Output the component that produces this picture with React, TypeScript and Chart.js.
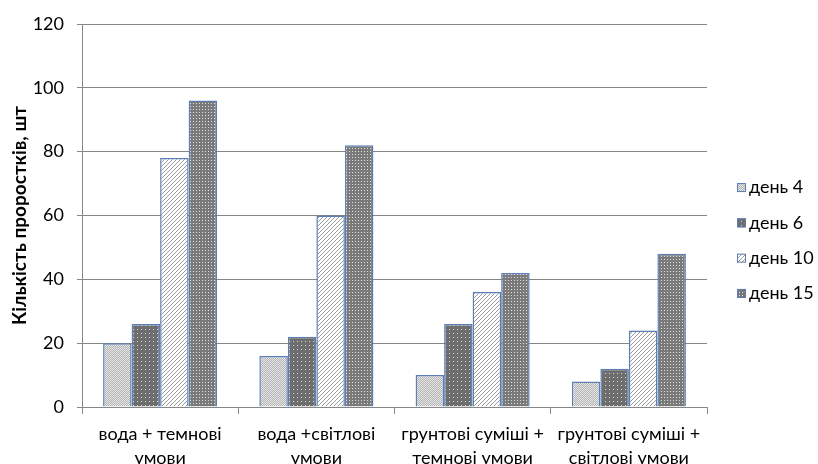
import React, { useEffect, useRef } from "react";
import { Chart, registerables } from "chart.js";

Chart.register(...registerables);

const categories: string[][] = [
  ["вода + темнові", "умови"],
  ["вода +світлові", "умови"],
  ["грунтові суміші +", "темнові умови"],
  ["грунтові суміші +", "світлові умови"],
];
const seriesNames = ["день 4", "день 6", "день 10", "день 15"];
const day4 = [20, 16, 10, 8];
const day6 = [26, 22, 26, 12];
const day10 = [78, 60, 36, 24];
const day15 = [96, 82, 42, 48];
const yTicks = [0, 20, 40, 60, 80, 100, 120];

const FONT = "Lato, 'Open Sans', sans-serif";

function makePattern(kind: number): CanvasPattern | string {
  const c = document.createElement("canvas");
  const ctx = c.getContext("2d");
  if (!ctx) return "#999";
  if (kind === 0) {
    c.width = 2; c.height = 2;
    ctx.fillStyle = "#b4b4b4"; ctx.fillRect(0, 0, 2, 2);
    ctx.fillStyle = "#e6e6e6"; ctx.fillRect(0, 0, 1, 1); ctx.fillRect(1, 1, 1, 1);
  } else if (kind === 1) {
    c.width = 4; c.height = 4;
    ctx.fillStyle = "#6e6e6e"; ctx.fillRect(0, 0, 4, 4);
    ctx.fillStyle = "#d8d8d8"; ctx.fillRect(1, 1, 1, 1);
  } else if (kind === 2) {
    c.width = 4; c.height = 4;
    ctx.fillStyle = "#ffffff"; ctx.fillRect(0, 0, 4, 4);
    ctx.fillStyle = "#9a9a9a";
    for (let i = 0; i < 4; i++) ctx.fillRect(3 - i, i, 1, 1);
  } else {
    c.width = 3; c.height = 3;
    ctx.fillStyle = "#7a7a7a"; ctx.fillRect(0, 0, 3, 3);
    ctx.fillStyle = "#e0e0e0"; ctx.fillRect(1, 1, 1, 1);
  }
  return ctx.createPattern(c, "repeat") || "#999";
}

const sideLegend = {
  id: "sideLegend",
  afterDraw(chart: any) {
    const ctx = chart.ctx as CanvasRenderingContext2D;
    const x = chart.chartArea.right + 30;
    const cy = (chart.chartArea.top + chart.chartArea.bottom) / 2;
    const step = 35.3;
    const n = chart.data.datasets.length;
    ctx.save();
    chart.data.datasets.forEach((ds: any, i: number) => {
      const y = cy + (i - (n - 1) / 2) * step + 25;
      ctx.fillStyle = ds.backgroundColor;
      ctx.fillRect(x, y - 4.5, 9, 9);
      ctx.strokeStyle = ds.borderColor;
      ctx.lineWidth = 1;
      ctx.strokeRect(x + 0.5, y - 4, 8, 8);
      ctx.fillStyle = "#000";
      ctx.font = `18px ${FONT}`;
      ctx.textBaseline = "middle";
      ctx.textAlign = "left";
      ctx.fillText(ds.label, x + 12, y);
    });
    ctx.restore();
  },
};

export default function App() {
  const ref = useRef<HTMLCanvasElement | null>(null);
  useEffect(() => {
    document.body.style.margin = "0";
    if (!ref.current) return;
    const values = [day4, day6, day10, day15];
    const chart = new Chart(ref.current, {
      type: "bar",
      data: {
        labels: categories,
        datasets: seriesNames.map((name, i) => ({
          label: name,
          data: values[i],
          backgroundColor: makePattern(i),
          borderColor: "#5b7fb5",
          borderWidth: 1.5,
          barPercentage: 1,
          categoryPercentage: 0.73,
        })),
      },
      options: {
        animation: false,
        responsive: false,
        devicePixelRatio: 1,
        layout: { padding: { top: 24, right: 111, left: 0, bottom: 0 } },
        plugins: {
          tooltip: { enabled: false },
          legend: { display: false },
        },
        scales: {
          x: {
            afterFit: (axis: any) => { axis.height = 57; },
            grid: { display: true, offset: true, drawOnChartArea: false, tickLength: 7, color: "#868686" },
            border: { color: "#868686" },
            ticks: { font: { family: FONT, size: 18, lineHeight: 1.333 }, color: "#000", maxRotation: 0, autoSkip: false, padding: 8 },
          },
          y: {
            min: 0,
            max: 120,
            afterFit: (axis: any) => { axis.width = 82; },
            afterBuildTicks: (axis: any) => { axis.ticks = yTicks.map((v) => ({ value: v })); },
            grid: { color: "#868686", tickLength: 5 },
            border: { color: "#868686" },
            ticks: { font: { family: FONT, size: 18 }, color: "#000", padding: 13 },
            title: {
              display: true,
              text: "Кількість проростків, шт",
              font: { family: FONT, size: 19, weight: "bold" },
              color: "#000",
              padding: { top: 8, bottom: 0 },
            },
          },
        },
      },
      plugins: [sideLegend],
    } as any);
    return () => chart.destroy();
  }, []);
  return (
    <div style={{ position: "fixed", left: 0, top: 0, width: 818, height: 464 }}>
      <canvas ref={ref} width={818} height={464} />
    </div>
  );
}
